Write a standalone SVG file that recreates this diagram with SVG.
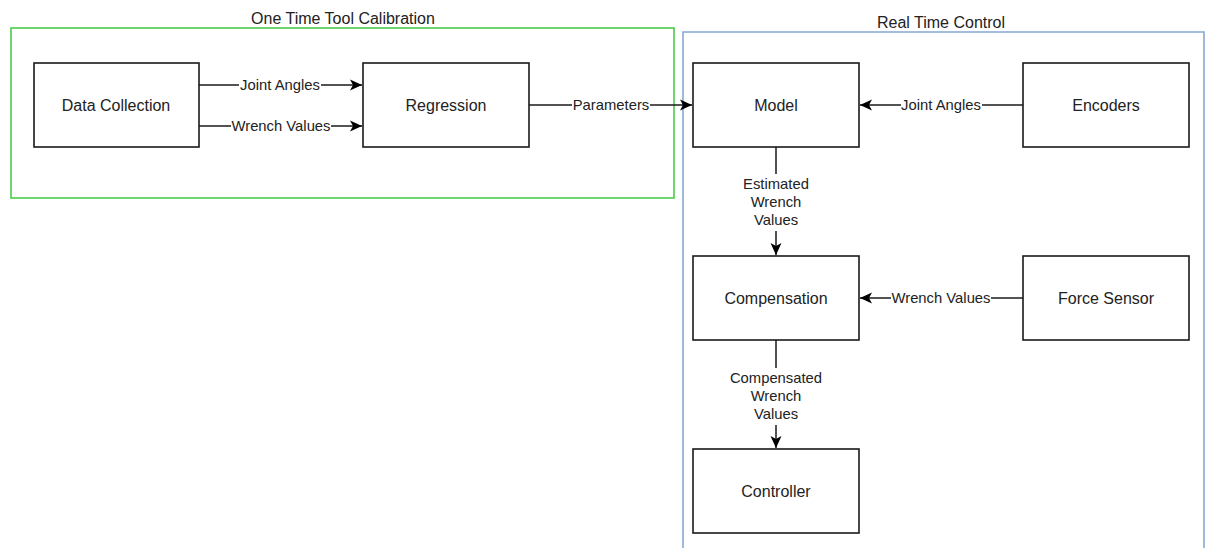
<svg xmlns="http://www.w3.org/2000/svg" width="1212" height="548" viewBox="0 0 1212 548">
<style>
.node{fill:#fff;stroke:#1a1a1a;stroke-width:1.6}
.nt{font-family:"Liberation Sans",Arial,sans-serif;font-size:16px;fill:#222;text-anchor:middle}
.et{font-family:"Liberation Sans",Arial,sans-serif;font-size:14.8px;fill:#222;text-anchor:middle}
.gt{font-family:"Liberation Sans",Arial,sans-serif;font-size:16px;fill:#222;text-anchor:middle}
.edge{fill:none;stroke:#1a1a1a;stroke-width:1.5}
.lb{fill:#fff}
</style>
<defs>
<marker id="arr" markerWidth="14" markerHeight="14" viewBox="0 0 14 14" refX="13" refY="7" orient="auto" markerUnits="userSpaceOnUse">
<path d="M1,1.5 L13,7 L1,12.5 L4,7 Z" fill="#000"/>
</marker>
</defs>
<rect width="1212" height="548" fill="#fff"/>
<g id="group-calibration">
<rect x="11" y="28" width="663" height="170" fill="none" stroke="#4ccc4c" stroke-width="1.6"/>
<text class="gt" x="343" y="24">One Time Tool Calibration</text>
</g>
<g id="group-realtime">
<path d="M683,552 L683,32 L1204,32 L1204,552" fill="none" stroke="#86a8d4" stroke-width="1.6"/>
<text class="gt" x="941" y="28">Real Time Control</text>
</g>
<g id="connectors">
<path class="edge" d="M199,85 L362,85" marker-end="url(#arr)"/>
<path class="edge" d="M199,126 L362,126" marker-end="url(#arr)"/>
<path class="edge" d="M529,105 L692,105" marker-end="url(#arr)"/>
<path class="edge" d="M1023,105 L860,105" marker-end="url(#arr)"/>
<path class="edge" d="M1023,298 L860,298" marker-end="url(#arr)"/>
<path class="edge" d="M776,147 L776,255" marker-end="url(#arr)"/>
<path class="edge" d="M776,340 L776,448" marker-end="url(#arr)"/>
<rect class="lb" x="239" y="77" width="82" height="17"/>
<text class="et" x="280" y="90">Joint Angles</text>
<rect class="lb" x="231" y="118" width="100" height="17"/>
<text class="et" x="281" y="131">Wrench Values</text>
<rect class="lb" x="572" y="97" width="78" height="17"/>
<text class="et" x="611" y="110">Parameters</text>
<rect class="lb" x="901" y="97" width="81" height="17"/>
<text class="et" x="941" y="110">Joint Angles</text>
<rect class="lb" x="891" y="290" width="100" height="17"/>
<text class="et" x="941" y="303">Wrench Values</text>
<rect class="lb" x="740" y="174" width="72" height="57"/>
<text class="et" x="776" y="189">Estimated</text>
<text class="et" x="776" y="207">Wrench</text>
<text class="et" x="776" y="225">Values</text>
<rect class="lb" x="726" y="368" width="100" height="57"/>
<text class="et" x="776" y="383">Compensated</text>
<text class="et" x="776" y="401">Wrench</text>
<text class="et" x="776" y="419">Values</text>
</g>
<g id="node-data-collection">
<rect class="node" x="34" y="63" width="165" height="84"/>
<text class="nt" x="116" y="111">Data Collection</text>
</g>
<g id="node-regression">
<rect class="node" x="363" y="63" width="166" height="84"/>
<text class="nt" x="446" y="111">Regression</text>
</g>
<g id="node-model">
<rect class="node" x="693" y="63" width="166" height="84"/>
<text class="nt" x="776" y="111">Model</text>
</g>
<g id="node-encoders">
<rect class="node" x="1023" y="63" width="166" height="84"/>
<text class="nt" x="1106" y="111">Encoders</text>
</g>
<g id="node-compensation">
<rect class="node" x="693" y="256" width="166" height="84"/>
<text class="nt" x="776" y="304">Compensation</text>
</g>
<g id="node-force-sensor">
<rect class="node" x="1023" y="256" width="166" height="84"/>
<text class="nt" x="1106" y="304">Force Sensor</text>
</g>
<g id="node-controller">
<rect class="node" x="693" y="449" width="166" height="84"/>
<text class="nt" x="776" y="497">Controller</text>
</g>
</svg>
